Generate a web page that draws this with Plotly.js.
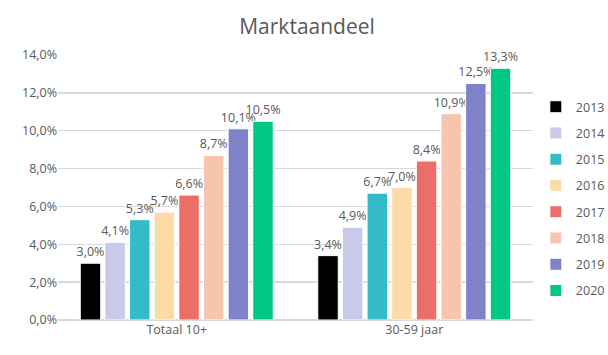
<!DOCTYPE html>
<html>
<head>
<meta charset="utf-8">
<script src="https://cdn.plot.ly/plotly-3.0.1.min.js"></script>
<style>html,body{margin:0;padding:0;background:#fff;}#chart{width:608px;height:355px;}</style>
</head>
<body>
<div id="chart"></div>
<script>
const categories = ["Totaal 10+", "30-59 jaar"];
const years = ["2013", "2014", "2015", "2016", "2017", "2018", "2019", "2020"];
const v2013 = [3.0, 3.4];
const v2014 = [4.1, 4.9];
const v2015 = [5.3, 6.7];
const v2016 = [5.7, 7.0];
const v2017 = [6.6, 8.4];
const v2018 = [8.7, 10.9];
const v2019 = [10.1, 12.5];
const v2020 = [10.5, 13.3];
const seriesValues = [v2013, v2014, v2015, v2016, v2017, v2018, v2019, v2020];
const colors = ["#000000", "#c9c9e9", "#33bcc8", "#fbdca6", "#eb6e67", "#f7c4ae", "#7f82c8", "#00c882"];
const tickVals = [0, 2, 4, 6, 8, 10, 12, 14];
const tickText = ["0,0%", "2,0%", "4,0%", "6,0%", "8,0%", "10,0%", "12,0%", "14,0%"];

const FONT = "'Open Sans', sans-serif";
const traces = years.map((y, i) => ({
  type: "bar",
  name: y,
  x: categories,
  y: seriesValues[i],
  legendgroup: y,
  marker: {color: colors[i], line: {color: "#ffffff", width: 1}},
  texttemplate: "%{y:.1f}%",
  textposition: "outside",
  constraintext: "none",
  cliponaxis: false,
  textfont: {family: FONT, size: 12.5, color: "#595959"},
  hoverinfo: "skip"
}));

const layout = {
  width: 608, height: 355,
  margin: {l: 58, r: 75, t: 55, b: 35, autoexpand: false},
  paper_bgcolor: "#ffffff", plot_bgcolor: "#ffffff",
  separators: ",.",
  font: {family: FONT, color: "#595959", size: 12.5},
  title: {text: "Marktaandeel", x: 0.505, xanchor: "center", y: 0.925, yanchor: "middle",
          font: {family: FONT, size: 21, color: "#595959"}},
  barmode: "group",
  bargap: 0.17,
  bargroupgap: 0.17,
  showlegend: true,
  legend: {x: 1.006, xanchor: "left", y: 0.86, yanchor: "top", traceorder: "grouped",
           tracegroupgap: 7, font: {family: FONT, size: 12.5, color: "#595959"},
           itemwidth: 30},
  xaxis: {type: "category", showgrid: false, zeroline: false, showline: false, ticks: "",
          tickfont: {family: FONT, size: 12.5, color: "#595959"}},
  yaxis: {range: [0, 14], tickvals: tickVals, ticktext: tickText,
          showgrid: true, gridcolor: "#d9d9d9", gridwidth: 1.3, zeroline: true,
          zerolinecolor: "#d9d9d9", zerolinewidth: 1.3, showline: false, ticks: "",
          tickfont: {family: FONT, size: 12.5, color: "#595959"}}
};

Plotly.newPlot("chart", traces, layout, {displayModeBar: false, staticPlot: true});
</script>
</body>
</html>
